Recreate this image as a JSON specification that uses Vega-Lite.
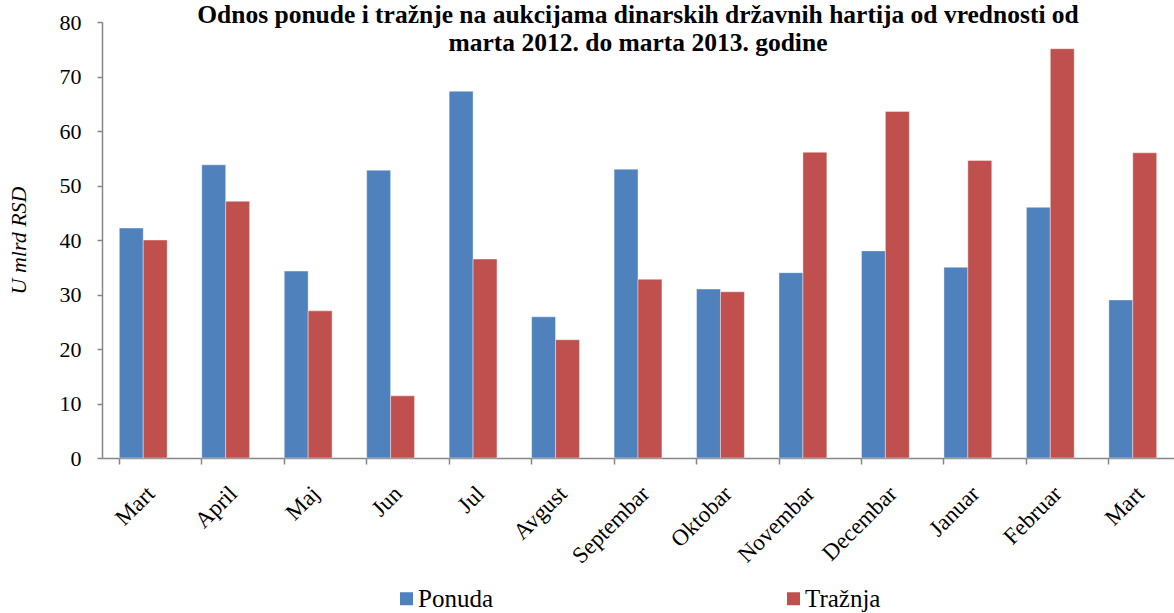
{
  "$schema": "https://vega.github.io/schema/vega-lite/v6.json",
  "width": 1072,
  "height": 436,
  "autosize": {"type": "none"},
  "padding": {"left": 102, "top": 22, "right": 0, "bottom": 155},
  "background": "white",
  "title": {
    "text": ["Odnos ponude i tražnje na aukcijama dinarskih državnih hartija od vrednosti od", "marta 2012. do marta 2013. godine"],
    "font": "Liberation Serif",
    "fontSize": 25.5,
    "fontWeight": "bold",
    "color": "black",
    "lineHeight": 28,
    "anchor": "middle",
    "baseline": "top",
    "offset": -22,
    "dy": 23
  },
  "data": {
    "values": [
      {"mesec": "Mart 2012", "serija": "Ponuda", "vrednost": 42.2},
      {"mesec": "Mart 2012", "serija": "Tražnja", "vrednost": 40.0},
      {"mesec": "April", "serija": "Ponuda", "vrednost": 53.8},
      {"mesec": "April", "serija": "Tražnja", "vrednost": 47.1},
      {"mesec": "Maj", "serija": "Ponuda", "vrednost": 34.3},
      {"mesec": "Maj", "serija": "Tražnja", "vrednost": 27.0},
      {"mesec": "Jun", "serija": "Ponuda", "vrednost": 52.8},
      {"mesec": "Jun", "serija": "Tražnja", "vrednost": 11.4},
      {"mesec": "Jul", "serija": "Ponuda", "vrednost": 67.3},
      {"mesec": "Jul", "serija": "Tražnja", "vrednost": 36.5},
      {"mesec": "Avgust", "serija": "Ponuda", "vrednost": 25.9},
      {"mesec": "Avgust", "serija": "Tražnja", "vrednost": 21.7},
      {"mesec": "Septembar", "serija": "Ponuda", "vrednost": 53.0},
      {"mesec": "Septembar", "serija": "Tražnja", "vrednost": 32.8},
      {"mesec": "Oktobar", "serija": "Ponuda", "vrednost": 31.0},
      {"mesec": "Oktobar", "serija": "Tražnja", "vrednost": 30.5},
      {"mesec": "Novembar", "serija": "Ponuda", "vrednost": 34.0},
      {"mesec": "Novembar", "serija": "Tražnja", "vrednost": 56.1},
      {"mesec": "Decembar", "serija": "Ponuda", "vrednost": 38.0},
      {"mesec": "Decembar", "serija": "Tražnja", "vrednost": 63.6},
      {"mesec": "Januar", "serija": "Ponuda", "vrednost": 35.0},
      {"mesec": "Januar", "serija": "Tražnja", "vrednost": 54.6},
      {"mesec": "Februar", "serija": "Ponuda", "vrednost": 46.0},
      {"mesec": "Februar", "serija": "Tražnja", "vrednost": 75.1},
      {"mesec": "Mart 2013", "serija": "Ponuda", "vrednost": 29.0},
      {"mesec": "Mart 2013", "serija": "Tražnja", "vrednost": 56.0}
    ]
  },
  "mark": {"type": "bar", "stroke": "white", "strokeWidth": 0.8, "strokeOpacity": 0.5},
  "encoding": {
    "x": {
      "field": "mesec",
      "type": "nominal",
      "sort": null,
      "scale": {"paddingInner": 0.42, "paddingOuter": 0.21},
      "axis": {
        "title": null,
        "labelExpr": "split(datum.label, ' ')[0]",
        "labelAngle": -45,
        "labelAlign": "right",
        "labelBaseline": "top",
        "labelPadding": 18,
        "labelOffset": 0,
        "labelFont": "Liberation Serif",
        "labelFontSize": 23,
        "labelColor": "black",
        "bandPosition": 0,
        "tickSize": 6,
        "tickColor": "#868686",
        "tickWidth": 1.5,
        "domainColor": "#868686",
        "domainWidth": 1.5,
        "grid": false
      }
    },
    "xOffset": {"field": "serija", "type": "nominal", "scale": {"paddingInner": 0, "paddingOuter": 0}},
    "y": {
      "field": "vrednost",
      "type": "quantitative",
      "scale": {"domain": [0, 80], "nice": false},
      "axis": {
        "title": "U mlrd RSD",
        "titleFont": "Liberation Serif",
        "titleFontSize": 22,
        "titleFontStyle": "italic",
        "titleFontWeight": "normal",
        "titleColor": "black",
        "titlePadding": 29,
        "values": [0, 10, 20, 30, 40, 50, 60, 70, 80],
        "labelFont": "Liberation Serif",
        "labelFontSize": 22,
        "labelColor": "black",
        "labelPadding": 16,
        "tickSize": 5,
        "tickColor": "#868686",
        "tickWidth": 1.5,
        "domainColor": "#868686",
        "domainWidth": 1.5,
        "grid": false
      }
    },
    "color": {
      "field": "serija",
      "type": "nominal",
      "scale": {"domain": ["Ponuda", "Tražnja"], "range": ["#4F81BD", "#C0504D"]},
      "legend": {
        "title": null,
        "orient": "none",
        "direction": "horizontal",
        "legendX": 292,
        "legendY": 564,
        "symbolType": "square",
        "symbolSize": 169,
        "symbolStrokeWidth": 0,
        "labelFont": "Liberation Serif",
        "labelFontSize": 25,
        "labelColor": "black",
        "labelOffset": -1,
        "columnPadding": 288
      }
    }
  },
  "config": {"view": {"stroke": null}}
}
